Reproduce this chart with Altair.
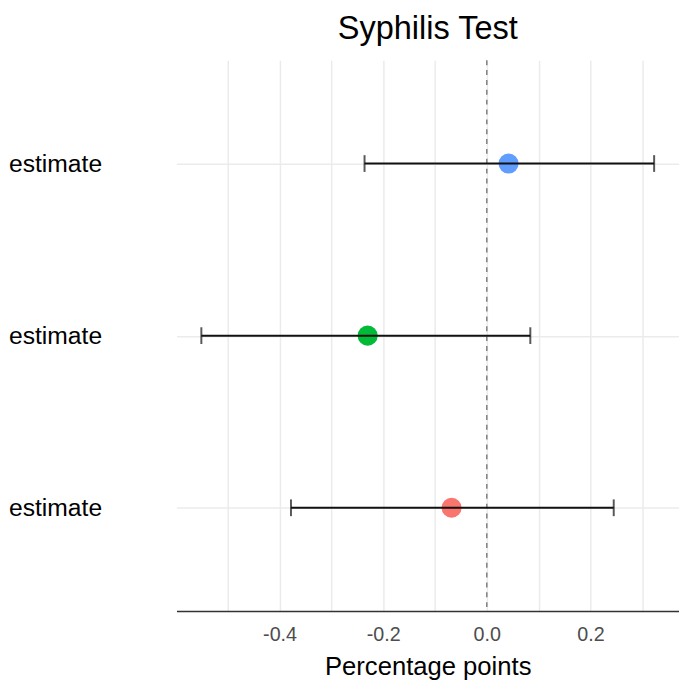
import altair as alt
import pandas as pd

rows = [1, 2, 3]
row_labels = ["estimate", "estimate", "estimate"]
groups = ["a", "b", "c"]
estimates = [-0.068, -0.230, 0.042]
lows = [-0.378, -0.551, -0.236]
highs = [0.245, 0.084, 0.323]
colors = ["#F8766D", "#00BA38", "#619CFF"]

df = pd.DataFrame({"row": rows, "label": row_labels, "group": groups,
                   "est": estimates, "low": lows, "high": highs})

grid_vals = [-0.5, -0.4, -0.3, -0.2, -0.1, 0.0, 0.1, 0.2, 0.3]

xscale = alt.Scale(domain=[-0.599, 0.371], nice=False, zero=False)
yscale = alt.Scale(domain=[0.4, 3.6], nice=False, zero=False)

xaxis = alt.Axis(values=grid_vals, grid=True, gridColor="#EBEBEB", gridWidth=1.5,
                 ticks=False, domain=True, domainColor="#333333", domainWidth=1.5,
                 labelExpr="abs(round(datum.value*10)) % 2 == 0 ? replace(format(datum.value, '.1f'), '\u2212', '-') : ''",
                 labelColor="#4D4D4D", labelFontSize=20, labelFont="Liberation Sans",
                 labelPadding=14, title="Percentage points", titleFontSize=26,
                 titleFont="Liberation Sans", titleFontWeight="normal", titleColor="#000000",
                 titlePadding=9)
yaxis = alt.Axis(values=rows, grid=True, gridColor="#EBEBEB", gridWidth=1.5,
                 ticks=False, domain=False, labelExpr="'estimate'",
                 labelColor="#000000", labelFontSize=25, labelFont="Liberation Sans",
                 labelPadding=76, title=None)

base = alt.Chart(df)

points = base.mark_circle(size=415, opacity=1).encode(
    x=alt.X("est:Q", scale=xscale, axis=xaxis),
    y=alt.Y("row:Q", scale=yscale, axis=yaxis),
    color=alt.Color("group:N", scale=alt.Scale(domain=groups, range=colors), legend=None),
)

zero = alt.Chart(pd.DataFrame({"z": [0.0]})).mark_rule(
    color="#7F7F7F", strokeDash=[5, 5], strokeWidth=1.5).encode(x=alt.X("z:Q", scale=xscale))

bars = base.mark_rule(color="#111111", strokeWidth=2).encode(
    x=alt.X("low:Q", scale=xscale), x2="high:Q", y=alt.Y("row:Q", scale=yscale))

cap_lo = base.mark_tick(color="#111111", thickness=2, size=17, orient="vertical").encode(
    x=alt.X("low:Q", scale=xscale), y=alt.Y("row:Q", scale=yscale))
cap_hi = base.mark_tick(color="#111111", thickness=2, size=17, orient="vertical").encode(
    x=alt.X("high:Q", scale=xscale), y=alt.Y("row:Q", scale=yscale))

chart = alt.layer(zero, points, bars, cap_lo, cap_hi).properties(
    width=510, height=559, padding={"top": 0, "left": 0, "right": 0, "bottom": 0},
    title=alt.TitleParams("Syphilis Test", fontSize=33, font="Liberation Sans",
                          fontWeight="normal", color="#000000", offset=14, anchor="middle"),
).configure_view(stroke=None)

chart.save("out.html", embed_options={"renderer": "svg", "actions": False})
